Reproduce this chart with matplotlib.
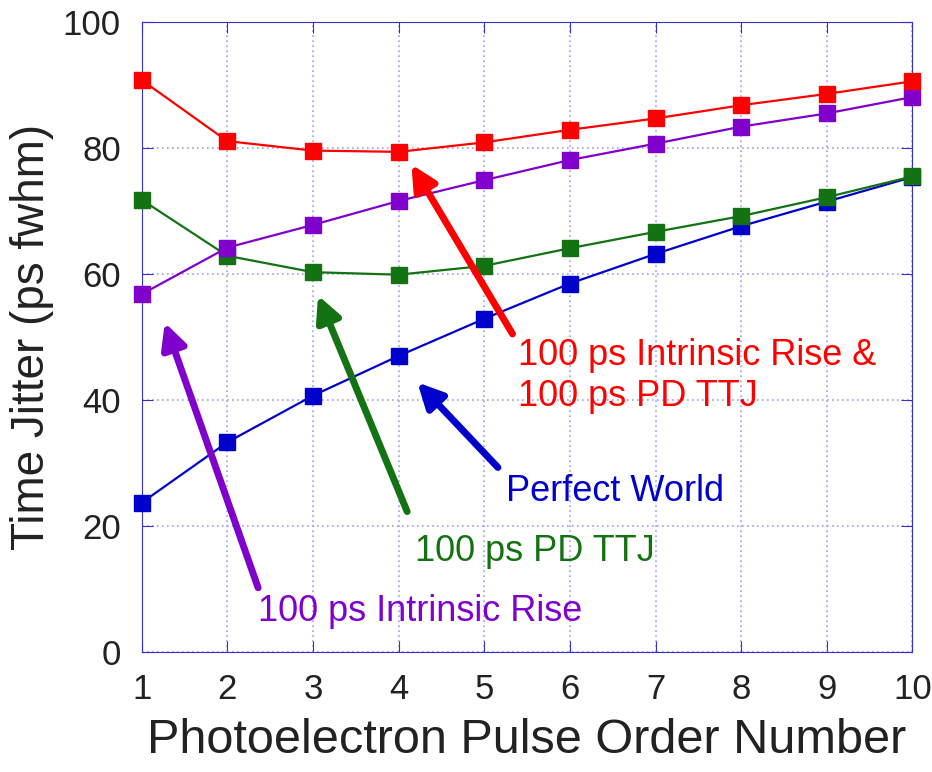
import numpy as np
import matplotlib.pyplot as plt

plt.rcParams['font.family'] = ['Liberation Sans', 'DejaVu Sans']

order = np.arange(1, 11)
perfect = [23.7, 33.3, 40.7, 47.0, 52.9, 58.5, 63.2, 67.6, 71.5, 75.4]
pd_ttj = [71.8, 62.9, 60.3, 59.9, 61.3, 64.1, 66.7, 69.2, 72.2, 75.5]
rise = [56.8, 64.2, 67.8, 71.6, 74.9, 78.1, 80.7, 83.4, 85.5, 88.1]
rise_ttj = [90.8, 81.1, 79.6, 79.4, 80.9, 82.9, 84.7, 86.8, 88.6, 90.6]

c_red = '#ff0000'
c_purple = '#8000cc'
c_green = '#137313'
c_blue = '#0000cc'
c_axis = '#3333cc'

fig = plt.figure(figsize=(9.32, 7.72), dpi=100)
ax = fig.add_axes([0.152, 0.1554, 0.827, 0.816])

for vals, col in [(perfect, c_blue), (pd_ttj, c_green), (rise, c_purple), (rise_ttj, c_red)]:
    ax.plot(order, vals, color=col, lw=1.6, marker='s', ms=11, mec=col, mfc=col, clip_on=False, zorder=3)

ax.set_xlim(1, 10)
ax.set_ylim(0, 100)
ax.set_xticks(order)
ax.set_yticks(np.arange(0, 101, 20))
ax.grid(True, color='#a0a0f0', ls=(0, (1, 2)), lw=1.2)
for s in ax.spines.values():
    s.set_color(c_axis)
    s.set_linewidth(0.8)
ax.tick_params(direction='in', colors=c_axis, length=8, width=0.8,
               labelcolor='#222222', labelsize=25, top=True, right=True, pad=15)
ax.set_xlabel('Photoelectron Pulse Order Number', fontsize=35, color='#222222', labelpad=9)
ax.set_ylabel('Time Jitter (ps fwhm)', fontsize=33, color='#222222', labelpad=6)

# arrows pointing from the labels to their curves
arrows = [
    ((1.27, 52.3), (2.36, 10.2), c_purple),
    ((3.06, 56.6), (4.10, 22.3), c_green),
    ((4.22, 42.8), (5.16, 29.3), c_blue),
    ((4.15, 77.4), (5.33, 50.5), c_red),
]
for tip, tail, col in arrows:
    ax.annotate('', xy=tip, xytext=tail,
                arrowprops=dict(arrowstyle='-|>,head_length=1.5,head_width=0.75',
                                color=col, lw=5, shrinkA=0, shrinkB=0))

ax.text(5.39, 43.8, '100 ps Intrinsic Rise &\n100 ps PD TTJ', color=c_red,
        fontsize=26, va='center', ha='left', linespacing=1.2)
ax.text(5.26, 25.5, 'Perfect World', color=c_blue, fontsize=26, va='center', ha='left')
ax.text(4.19, 15.9, '100 ps PD TTJ', color=c_green, fontsize=26, va='center', ha='left')
ax.text(2.36, 6.4, '100 ps Intrinsic Rise', color=c_purple, fontsize=26, va='center', ha='left')

fig.savefig('out.png', dpi=100)
